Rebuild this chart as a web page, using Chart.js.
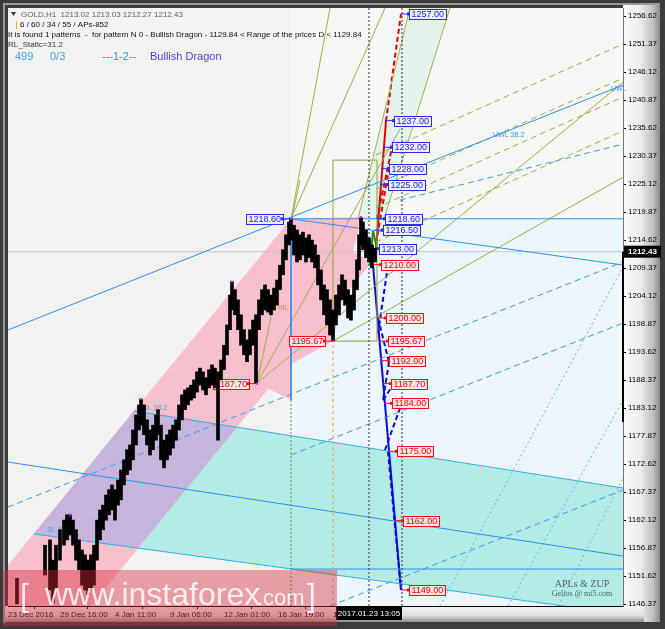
<!DOCTYPE html>
<html>
<head>
<meta charset="utf-8">
<script src="https://cdn.jsdelivr.net/npm/chart.js@4.4.0/dist/chart.umd.min.js"></script>
<style>
  html, body { margin: 0; padding: 0; background: #3a3a3a; }
  canvas { display: block; }
</style>
</head>
<body>
<canvas id="gold" width="665" height="629"></canvas>
<script>
// ---- axis ticks ----
const timeLabels = ['23 Dec 2016', '29 Dec 16:00', '4 Jan 11:00', '9 Jan 06:00', '12 Jan 01:00', '16 Jan 19:00', '19 Jan 14:00'];
const timeTickBars = [0, 52, 107, 162, 216, 270, 325];
const priceTicks = [1146.37, 1151.62, 1156.87, 1162.12, 1167.37, 1172.62, 1177.87, 1183.12, 1188.37, 1193.62,
  1198.87, 1204.12, 1209.37, 1214.62, 1219.87, 1225.12, 1230.37, 1235.62, 1240.87, 1246.12, 1251.37, 1256.62];

// ---- GOLD H1 price (sampled bars, low / high) ----
const candleBars = [9, 37, 42, 45, 48, 52, 56, 59, 62, 65, 68, 71, 74, 77, 80, 83, 86, 89, 92, 95, 98, 101, 104, 107, 110,
  113, 116, 119, 122, 125, 128, 131, 133, 136, 139, 142, 145, 148, 150, 153, 156, 159, 162, 165, 168, 171, 174, 177, 180,
  183, 186, 189, 192, 195, 198, 201, 204, 207, 210, 213, 216, 219, 222, 224, 227, 230, 233, 236, 239, 242, 245, 248, 251,
  254, 257, 260, 263, 266, 269, 272, 275, 278, 281, 283, 286, 289, 292, 295, 298, 301, 304, 307, 310, 313, 316, 319, 322,
  325, 328, 331, 334, 337, 340, 343, 346, 349, 351, 353, 355, 358, 361, 364, 367];
const candleHigh = [1151.2, 1157.4, 1158.4, 1154.6, 1157.4, 1160.3, 1162.1, 1163.1, 1163.1, 1162.1, 1160.3, 1158.4, 1156.5,
  1155.6, 1154.6, 1155.6, 1157.4, 1162.1, 1164.0, 1164.9, 1166.8, 1167.8, 1168.7, 1167.8, 1169.6, 1171.5, 1173.4, 1175.3,
  1176.2, 1179.0, 1181.8, 1183.7, 1184.8, 1183.7, 1180.9, 1179.0, 1179.9, 1181.8, 1182.8, 1179.9, 1177.1, 1178.1, 1179.0,
  1179.9, 1180.9, 1183.7, 1185.6, 1186.5, 1186.9, 1187.4, 1188.4, 1189.9, 1190.6, 1189.9, 1188.8, 1190.3, 1191.2, 1190.6,
  1189.9, 1192.1, 1194.9, 1198.7, 1204.3, 1206.8, 1205.3, 1203.4, 1200.6, 1197.8, 1195.9, 1197.8, 1199.6, 1200.6, 1203.4,
  1205.3, 1206.2, 1205.3, 1204.3, 1205.6, 1207.1, 1209.9, 1212.8, 1215.6, 1218.0, 1218.6, 1217.4, 1216.5, 1215.6, 1216.1,
  1215.0, 1215.6, 1214.6, 1213.7, 1211.8, 1209.0, 1206.2, 1205.3, 1203.4, 1201.5, 1204.3, 1206.2, 1208.1, 1207.1, 1205.3,
  1204.3, 1207.1, 1210.9, 1215.6, 1218.8, 1218.0, 1216.5, 1215.0, 1213.7, 1213.1];
const candleLow = [1146.4, 1151.8, 1149.0, 1146.6, 1149.0, 1154.6, 1157.4, 1158.4, 1159.3, 1157.4, 1154.6, 1152.8, 1149.9,
  1149.0, 1148.1, 1149.0, 1149.9, 1154.6, 1158.4, 1160.3, 1162.1, 1163.1, 1164.0, 1162.1, 1164.9, 1165.9, 1168.7, 1170.6,
  1171.5, 1173.4, 1176.2, 1179.0, 1179.9, 1178.1, 1176.2, 1174.3, 1175.3, 1177.1, 1178.1, 1173.4, 1171.9, 1173.4, 1174.3,
  1175.6, 1177.1, 1179.0, 1180.9, 1182.8, 1183.7, 1184.6, 1185.0, 1186.1, 1187.4, 1186.5, 1185.6, 1186.9, 1187.4, 1186.9,
  1177.1, 1188.4, 1190.3, 1193.1, 1197.8, 1201.5, 1200.6, 1197.8, 1194.9, 1193.1, 1191.8, 1193.1, 1194.9, 1187.8, 1197.8,
  1200.6, 1201.5, 1201.1, 1200.6, 1201.5, 1202.4, 1205.3, 1208.1, 1210.9, 1213.7, 1214.6, 1211.8, 1210.5, 1210.9, 1211.8,
  1210.5, 1211.3, 1210.5, 1209.4, 1206.2, 1203.4, 1200.6, 1198.7, 1196.8, 1195.7, 1198.7, 1200.6, 1203.4, 1202.4, 1200.0,
  1199.6, 1201.5, 1205.3, 1209.0, 1213.7, 1212.8, 1211.3, 1210.5, 1209.4, 1210.5];
const lastPrice = 1212.43;

// swing points of the pattern
const swingBars = [62, 133, 224, 249, 283, 325, 353];
const swingPrices = [1163.1, 1184.8, 1206.8, 1187.7, 1218.6, 1195.67, 1218.9];

// ---- target levels ----
const upTargets = [1257.00, 1237.00, 1232.00, 1228.00, 1225.00, 1218.60, 1216.50, 1213.00];
const upTargetBars = [393, 378, 376, 373, 372, 369, 367, 363];
const downTargets = [1210.00, 1200.00, 1195.67, 1192.00, 1187.70, 1184.00, 1175.00, 1162.00, 1149.00];
const downTargetBars = [365, 370, 372, 373, 375, 376, 381, 387, 393];
const pivotLevels = [1218.60, 1195.67, 1187.70];
const pivotBars = [283, 325, 249];

// ---- shaded areas [bar, price, bar, price, ...] ----
const areaUpper = [283, 1218.6, 615, 1218.6, 615, 1258.12, 283, 1258.12];
const areaLower = [283, 1146.0, 615, 1146.0, 615, 1218.6, 283, 1218.6];
const channelArea = [126, 1182.56, 615, 1168.12, 615, 1144.5, 26, 1159.5];
const pinkArea = [0, 1153.68, 283, 1218.6, 364, 1210.5, 83, 1146.0, 0, 1146.0];
const overlapArea = [126, 1182.56, 229, 1179.56, 130, 1156.87, 26, 1159.5];
const dragonArea = [249, 1187.8, 283, 1218.6, 353, 1218.9, 325, 1195.67];
const wedgeArea = [249, 1187.8, 283, 1218.6, 283, 1184.62];
const fanArea = [350, 1218.6, 376, 1218.6, 442, 1258.12, 402, 1258.12];

// ---- trend lines [bar1, price1, bar2, price2] ----
const blueLines = [
  [0, 1197.75, 615, 1243.68],
  [283, 1218.6, 615, 1218.6],
  [283, 1218.6, 615, 1209.93],
  [0, 1172.99, 615, 1155.37],
  [283, 1152.93, 615, 1152.93],
  [283, 1218.6, 283, 1184.62]
];
const channelLines = [
  [126, 1182.56, 615, 1168.12],
  [26, 1159.5, 615, 1144.5]
];
const blueDashed = [
  [0, 1164.56, 615, 1210.5],
  [283, 1174.31, 615, 1199.06],
  [322, 1146.0, 615, 1167.75],
  [392, 1222.1, 615, 1232.6]
];
const blueDotted = [
  [432, 1146.0, 615, 1209.6],
  [500, 1146.0, 615, 1184.6],
  [550, 1146.0, 615, 1170.0]
];
const oliveLines = [
  [249, 1187.8, 292, 1225.87],
  [249, 1187.8, 392, 1235.4],
  [249, 1187.8, 615, 1244.2],
  [325, 1195.67, 615, 1226.4],
  [283, 1218.6, 322, 1258.12],
  [283, 1218.6, 377, 1258.12],
  [350, 1218.6, 402, 1258.12],
  [376, 1218.6, 442, 1258.12]
];
const oliveDashed = [
  [368, 1230.56, 615, 1251.37],
  [368, 1224.18, 615, 1244.99],
  [368, 1220.62, 615, 1241.43],
  [368, 1214.25, 615, 1235.06]
];
const oliveBox = [325, 1195.67, 369, 1229.6];
const redSolid = [[367, 1210.5, 378, 1236.93]];
const redDashed = [
  [378, 1236.93, 393, 1257.0],
  [369, 1218.6, 384, 1232.0],
  [368, 1214.0, 381, 1228.0]
];
const downSolid = [[365, 1209.93, 393, 1149.0]];
const downDashed = [
  [380, 1209.9, 370, 1197.1],
  [370, 1200.0, 381, 1191.75],
  [381, 1191.75, 375, 1184.6],
  [375, 1184.6, 386, 1187.7],
  [377, 1175.25, 392, 1183.1],
  [380, 1175.0, 393, 1149.0]
];
const greenLines = [
  [362, 1209.9, 365, 1216.3],
  [365, 1216.3, 369, 1213.1]
];
// vertical markers [bar, fromPrice, toPrice]
const blackVerticals = [[361, 1146.0, 1258.12], [394, 1146.0, 1258.12]];
const orangeVertical = [[325, 1146.0, 1195.67]];
const greenVertical = [[283, 1146.0, 1184.62]];

const textTags = [
  { t: '1/2 ML', b: 259, p: 1201.8, c: 'rgba(150,150,80,0.8)' },
  { t: 'UWL 38.2', b: 485, p: 1234.3, c: '#3a9ae8' },
  { t: 'UWL', b: 603, p: 1243.0, c: '#3a9ae8' },
  { t: 'SL 61.8', b: 39, p: 1160.2, c: '#2fb0c8' },
  { t: 'SL 38.2', b: 135, p: 1183.2, c: '#2fb0c8' }
];

// ---------------------------------------------------------------
const seg = (a, color, width, dash) => ({
  type: 'line',
  data: [{ x: a[0], y: a[1] }, { x: a[2], y: a[3] }],
  borderColor: color, borderWidth: width, borderDash: dash || [],
  pointRadius: 0, fill: false, order: 2
});
const vert = (a, color, width, dash) => seg([a[0], a[1], a[0], a[2]], color, width, dash);

const datasets = [{
  type: 'bar',
  data: candleBars.map((b, i) => ({ x: b, y: [candleLow[i], candleHigh[i]] })),
  backgroundColor: '#000', borderWidth: 0, barThickness: 3, grouped: false, order: -1
}];
datasets.push({
  type: 'line',
  data: [{ x: 0, y: lastPrice }, { x: 615, y: lastPrice }],
  borderColor: '#c4c4c4', borderWidth: 1, pointRadius: 0, order: 5
});
blackVerticals.forEach(a => datasets.push(vert(a, '#333', 1, [2, 2])));
orangeVertical.forEach(a => datasets.push(vert(a, '#f0a030', 1, [3, 3])));
greenVertical.forEach(a => datasets.push(vert(a, '#5a9a3a', 1, [2, 2])));
blueLines.forEach(a => datasets.push(seg(a, '#2f8ff0', 1)));
channelLines.forEach(a => datasets.push(seg(a, '#36aee0', 1)));
blueDashed.forEach(a => datasets.push(seg(a, '#3d9bf0', 1, [6, 4])));
blueDotted.forEach(a => datasets.push(seg(a, '#62b0f0', 1, [2, 3])));
oliveLines.forEach(a => datasets.push(seg(a, '#9fae4c', 1)));
oliveDashed.forEach(a => datasets.push(seg(a, '#9fae4c', 1, [6, 4])));
datasets.push(seg([oliveBox[0], oliveBox[1], oliveBox[2], oliveBox[1]], '#8fa040', 1));
datasets.push(seg([oliveBox[0], oliveBox[3], oliveBox[2], oliveBox[3]], '#8fa040', 1));
datasets.push(seg([oliveBox[0], oliveBox[1], oliveBox[0], oliveBox[3]], '#8fa040', 1));
datasets.push(seg([oliveBox[2], oliveBox[1], oliveBox[2], oliveBox[3]], '#8fa040', 1));
greenLines.forEach(a => datasets.push(seg(a, '#1a8a1a', 2)));
redSolid.forEach(a => datasets.push(seg(a, '#e00000', 2)));
redDashed.forEach(a => datasets.push(seg(a, '#e00000', 2, [5, 3])));
downSolid.forEach(a => datasets.push(seg(a, '#0a0ae0', 2)));
downDashed.forEach(a => datasets.push(seg(a, '#0a0ae0', 2, [5, 3])));
datasets.push({
  type: 'scatter',
  data: swingBars.map((b, i) => ({ x: b, y: swingPrices[i] })),
  pointStyle: 'rect', pointRadius: 1.5, backgroundColor: '#ff00ff', borderWidth: 0, order: -2
});

function polygon(chart, pts, color) {
  const { ctx, scales: { x, y } } = chart;
  ctx.beginPath();
  for (let i = 0; i < pts.length; i += 2) {
    const X = x.getPixelForValue(pts[i]), Y = y.getPixelForValue(pts[i + 1]);
    i ? ctx.lineTo(X, Y) : ctx.moveTo(X, Y);
  }
  ctx.closePath();
  ctx.fillStyle = color;
  ctx.fill();
}

function tag(ctx, ax, ay, text, st, toLeft) {
  ctx.font = '9px "Liberation Sans"';
  const w = Math.round(ctx.measureText(text).width) + 4, h = 10;
  const bx = Math.round(toLeft ? ax - 8 - w : ax + 8);
  const by = Math.round(ay - 5);
  const ex = toLeft ? bx + w : bx;
  ctx.strokeStyle = st.line; ctx.lineWidth = 1;
  ctx.beginPath(); ctx.moveTo(ax, ay); ctx.lineTo(ex, ay); ctx.stroke();
  ctx.fillStyle = st.fill;
  ctx.fillRect(bx + 0.5, by + 0.5, w, h);
  ctx.strokeRect(bx + 0.5, by + 0.5, w, h);
  ctx.fillStyle = st.line;
  ctx.fillRect(ex - 2, ay - 1.5, 3, 3);
  ctx.fillStyle = st.text;
  ctx.textBaseline = 'middle'; ctx.textAlign = 'left';
  ctx.fillText(text, bx + 2.5, by + 6);
}
const redTag = { line: '#ff1010', fill: '#fde4e6', text: '#ff0000' };
const blueTag = { line: '#2a2aff', fill: '#eeeeff', text: '#1a1aff' };

const decor = {
  id: 'decor',
  beforeDraw(chart) {
    const { ctx, chartArea: a } = chart;
    ctx.save();
    ctx.fillStyle = '#3c3c3c';
    ctx.fillRect(0, 0, 665, 629);
    let g = ctx.createLinearGradient(623, 0, 660, 0);
    g.addColorStop(0, '#fbfbfb'); g.addColorStop(0.45, '#eeeeee');
    g.addColorStop(0.8, '#c2c2c2'); g.addColorStop(1, '#8a8a8a');
    ctx.fillStyle = g; ctx.fillRect(623, 4, 37, 618);
    g = ctx.createLinearGradient(0, 606, 0, 622);
    g.addColorStop(0, '#f4f4f4'); g.addColorStop(0.6, '#dedede'); g.addColorStop(1, '#8c8c8c');
    ctx.fillStyle = g; ctx.fillRect(4, 606, 640, 16);
    ctx.fillStyle = '#9a9a9a'; ctx.fillRect(3, 3, 2, 620);
    ctx.fillRect(3, 3, 657, 2);
    ctx.fillStyle = '#f2f2f2';
    ctx.fillRect(a.left, a.top, a.right - a.left, a.bottom - a.top);
    ctx.beginPath(); ctx.rect(a.left, a.top, a.right - a.left, a.bottom - a.top); ctx.clip();
    polygon(chart, areaUpper, '#f6f8f6');
    polygon(chart, areaLower, '#edf5fd');
    polygon(chart, fanArea, '#e3f3ec');
    polygon(chart, channelArea, '#b3ebe6');
    polygon(chart, pinkArea, '#f8c0cd');
    polygon(chart, overlapArea, '#c5b4dc');
    polygon(chart, dragonArea, '#f8c0cd');
    polygon(chart, wedgeArea, '#f8c0cd');
    ctx.restore();
  },
  beforeDatasetDraw(chart, args) {
    if (args.index !== 0) return;
    const { ctx, scales: { x, y } } = chart;
    ctx.save();
    upTargets.forEach((v, i) => tag(ctx, x.getPixelForValue(upTargetBars[i]), y.getPixelForValue(v), v.toFixed(2), blueTag, false));
    downTargets.forEach((v, i) => tag(ctx, x.getPixelForValue(downTargetBars[i]), y.getPixelForValue(v), v.toFixed(2), redTag, false));
    pivotLevels.forEach((v, i) => tag(ctx, x.getPixelForValue(pivotBars[i]), y.getPixelForValue(v), v.toFixed(2), i ? redTag : blueTag, true));
    ctx.font = '7px "Liberation Sans"';
    ctx.textBaseline = 'middle';
    textTags.forEach(t => { ctx.fillStyle = t.c; ctx.fillText(t.t, x.getPixelForValue(t.b), y.getPixelForValue(t.p)); });
    ctx.restore();
  },
  afterDraw(chart) {
    const { ctx, scales: { x, y } } = chart;
    ctx.save();
    // right axis markers
    const yl = y.getPixelForValue(lastPrice);
    ctx.fillStyle = '#000';
    ctx.fillRect(622, yl, 2, y.getPixelForValue(1180.5) - yl);
    ctx.fillRect(624, yl - 6, 37, 12);
    ctx.fillStyle = '#fff';
    ctx.font = 'bold 8px "Liberation Sans"';
    ctx.textBaseline = 'middle'; ctx.textAlign = 'left';
    ctx.fillText(lastPrice.toFixed(2), 628, yl + 0.5);
    // time marker
    const xt = x.getPixelForValue(blackVerticals[0][0]);
    ctx.fillStyle = '#000';
    ctx.fillRect(xt - 33, 607, 66, 13);
    ctx.fillStyle = '#fff';
    ctx.font = '8px "Liberation Sans"';
    ctx.textAlign = 'center';
    ctx.fillText('2017.01.23 13:05', xt, 614);
    // header texts
    ctx.textAlign = 'left';
    ctx.font = '8px "Liberation Sans"';
    ctx.fillStyle = '#333';
    ctx.beginPath(); ctx.moveTo(11, 12); ctx.lineTo(16, 12); ctx.lineTo(13.5, 16); ctx.closePath(); ctx.fill();
    ctx.fillStyle = '#6a5a68';
    ctx.fillText('GOLD,H1  1213.02 1213.03 1212.27 1212.43', 21, 15);
    ctx.fillStyle = '#e0c020'; ctx.fillRect(16, 21, 1, 8);
    ctx.fillStyle = '#111';
    ctx.fillText('6 / 60 / 34 / 55 / APs-852', 20, 25);
    ctx.fillText('It is found 1 patterns  -  for pattern N 0 - Bullish Dragon - 1129.84 < Range of the prices D < 1129.84', 8, 35);
    ctx.fillStyle = '#333';
    ctx.fillText('RL_Static=31.2', 8, 45);
    ctx.font = '11px "Liberation Sans"';
    ctx.fillStyle = '#4aa0f0';
    ctx.fillText('499', 15, 57);
    ctx.fillText('0/3', 50, 57);
    ctx.fillStyle = '#3c8ee8';
    ctx.fillText('---1-2--', 102, 57);
    ctx.fillStyle = '#4a3cff';
    ctx.fillText('Bullish Dragon', 150, 57);
    // logo
    ctx.fillStyle = '#4e6666';
    ctx.font = '10px "Liberation Serif"';
    ctx.textAlign = 'center';
    ctx.fillText('APLs & ZUP', 582, 584);
    ctx.font = '8px "Liberation Serif"';
    ctx.fillText('Gelios @ mt5.com', 582, 594);
    // watermark
    ctx.fillStyle = 'rgba(214,40,56,0.42)';
    ctx.fillRect(3, 570, 334, 56);
    ctx.fillStyle = 'rgba(255,255,255,0.82)';
    ctx.textAlign = 'left'; ctx.textBaseline = 'alphabetic';
    ctx.font = '32px "Liberation Sans"';
    ctx.fillText('[', 20, 606);
    ctx.fillText('www.instaforex', 45, 605);
    ctx.fillText(']', 307, 606);
    ctx.font = '22px "Liberation Sans"';
    ctx.fillText('.com', 257, 605);
    ctx.restore();
  }
};

const axisFont = { family: 'Liberation Sans', size: 8 };
new Chart(document.getElementById('gold'), {
  type: 'bar',
  data: { datasets },
  options: {
    responsive: false,
    animation: false,
    events: [],
    layout: { padding: { left: 8, top: 8, right: 0, bottom: 0 } },
    plugins: { legend: { display: false }, tooltip: { enabled: false } },
    scales: {
      x: {
        type: 'linear', min: 0, max: 615, offset: false,
        afterBuildTicks: s => { s.ticks = timeTickBars.map(v => ({ value: v })); },
        afterFit: s => { s.height = 23; },
        ticks: { callback: (v, i) => timeLabels[i], align: 'start', font: axisFont, color: '#000', padding: 1, maxRotation: 0, autoSkip: false },
        grid: { drawOnChartArea: false, tickLength: 3, color: '#000' },
        border: { color: '#000' }
      },
      y: {
        type: 'linear', position: 'right', min: 1146.0, max: 1258.12,
        afterBuildTicks: s => { s.ticks = priceTicks.map(v => ({ value: v })); },
        afterFit: s => { s.width = 42; },
        ticks: { callback: v => v.toFixed(2), font: axisFont, color: '#000', padding: 2, autoSkip: false },
        grid: { drawOnChartArea: false, tickLength: 3, color: '#000' },
        border: { color: '#777' }
      }
    }
  },
  plugins: [decor]
});
</script>
</body>
</html>
